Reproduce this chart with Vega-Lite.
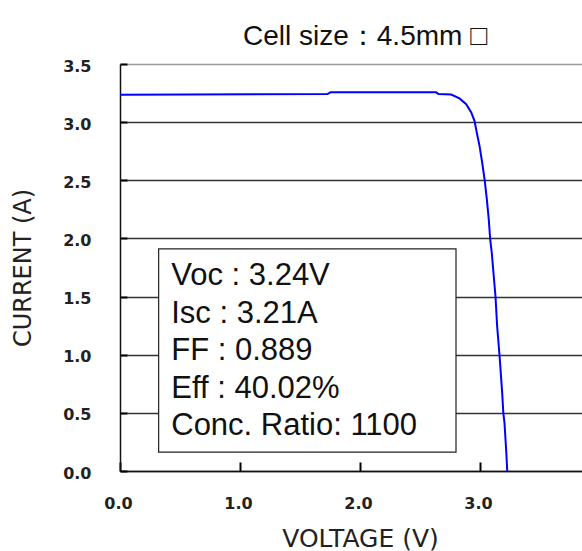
{
  "$schema": "https://vega.github.io/schema/vega-lite/v6.json",
  "width": 480,
  "height": 407,
  "autosize": {"type": "none"},
  "padding": {"left": 120, "top": 64, "right": -18, "bottom": 80},
  "background": "white",
  "title": {"text": "Cell size：4.5mm □", "font": "Liberation Sans, DejaVu Sans", "fontSize": 28, "fontWeight": "normal", "color": "#111", "anchor": "middle", "offset": 7, "dx": 5},
  "datasets": {
    "iv": [
      {"voltage": 0.0, "current": 3.235},
      {"voltage": 1.729, "current": 3.241},
      {"voltage": 1.754, "current": 3.256},
      {"voltage": 2.635, "current": 3.256},
      {"voltage": 2.654, "current": 3.241},
      {"voltage": 2.76, "current": 3.237},
      {"voltage": 2.829, "current": 3.204},
      {"voltage": 2.885, "current": 3.155},
      {"voltage": 2.927, "current": 3.084},
      {"voltage": 2.954, "current": 3.011},
      {"voltage": 2.973, "current": 2.911},
      {"voltage": 2.996, "current": 2.796},
      {"voltage": 3.018, "current": 2.653},
      {"voltage": 3.038, "current": 2.509},
      {"voltage": 3.057, "current": 2.336},
      {"voltage": 3.073, "current": 2.164},
      {"voltage": 3.085, "current": 1.991},
      {"voltage": 3.098, "current": 1.877},
      {"voltage": 3.129, "current": 1.503},
      {"voltage": 3.143, "current": 1.244},
      {"voltage": 3.163, "current": 0.991},
      {"voltage": 3.185, "current": 0.67},
      {"voltage": 3.194, "current": 0.503},
      {"voltage": 3.204, "current": 0.414},
      {"voltage": 3.218, "current": 0.181},
      {"voltage": 3.227, "current": 0.0}
    ],
    "box": [
      {"voltage": 0.322, "voltage_end": 2.8, "current": 0.162, "current_end": 1.911}
    ],
    "stats": [
      {"label": "Voc : 3.24V", "voltage": 0.427, "current": 1.675},
      {"label": "Isc : 3.21A", "voltage": 0.427, "current": 1.346},
      {"label": "FF : 0.889", "voltage": 0.427, "current": 1.03},
      {"label": "Eff : 40.02%", "voltage": 0.427, "current": 0.701},
      {"label": "Conc. Ratio: 1100", "voltage": 0.427, "current": 0.385}
    ]
  },
  "encoding": {
    "x": {
      "field": "voltage",
      "type": "quantitative",
      "scale": {"domain": [0, 4], "nice": false, "zero": false},
      "axis": {
        "title": "VOLTAGE (V)",
        "values": [0, 1, 2, 3, 4],
        "format": ".1f",
        "grid": false,
        "ticks": true,
        "tickSize": -9,
        "tickColor": "#000",
        "tickWidth": 2,
        "tickOpacity": 1,
        "domainColor": "#111",
        "domainWidth": 1.5,
        "labelFont": "DejaVu Sans",
        "labelFontWeight": "bold",
        "labelFontSize": 16,
        "labelColor": "#222",
        "labelPadding": 33,
        "labelOffset": -2,
        "labelFlush": false,
        "labelOverlap": false,
        "titleFont": "DejaVu Sans",
        "titleFontSize": 25,
        "titleFontWeight": "normal",
        "titleColor": "#222",
        "titlePadding": 15,
        "titleX": 240
      }
    },
    "y": {
      "field": "current",
      "type": "quantitative",
      "scale": {"domain": [0, 3.5], "nice": false},
      "axis": {
        "title": "CURRENT (A)",
        "values": [0, 0.5, 1, 1.5, 2, 2.5, 3, 3.5],
        "format": ".1f",
        "grid": true,
        "gridColor": {"condition": {"test": "datum.value === 3.5", "value": "#9a9a9a"}, "value": "#333"},
        "gridWidth": 1.5,
        "gridOpacity": 1,
        "ticks": true,
        "tickSize": -7,
        "tickColor": "#000",
        "tickWidth": 2,
        "tickOpacity": 1,
        "domainColor": "#111",
        "domainWidth": 1.5,
        "labelFont": "DejaVu Sans",
        "labelFontWeight": "bold",
        "labelFontSize": 16,
        "labelColor": "#222",
        "labelPadding": 36,
        "labelOffset": 2,
        "labelFlush": false,
        "labelOverlap": false,
        "titleFont": "DejaVu Sans",
        "titleFontSize": 24,
        "titleFontWeight": "normal",
        "titleColor": "#222",
        "titlePadding": 27
      }
    }
  },
  "layer": [
    {
      "data": {"name": "iv"},
      "mark": {"type": "line", "color": "#0000ff", "strokeWidth": 2, "clip": true}
    },
    {
      "data": {"name": "box"},
      "mark": {"type": "rect", "fill": "white", "stroke": "#222", "strokeWidth": 1.2},
      "encoding": {
        "x2": {"field": "voltage_end"},
        "y2": {"field": "current_end"}
      }
    },
    {
      "data": {"name": "stats"},
      "mark": {"type": "text", "align": "left", "baseline": "middle", "font": "Liberation Sans", "fontSize": 31, "color": "#111"},
      "encoding": {
        "text": {"field": "label", "type": "nominal"}
      }
    }
  ],
  "config": {"view": {"stroke": null}}
}
